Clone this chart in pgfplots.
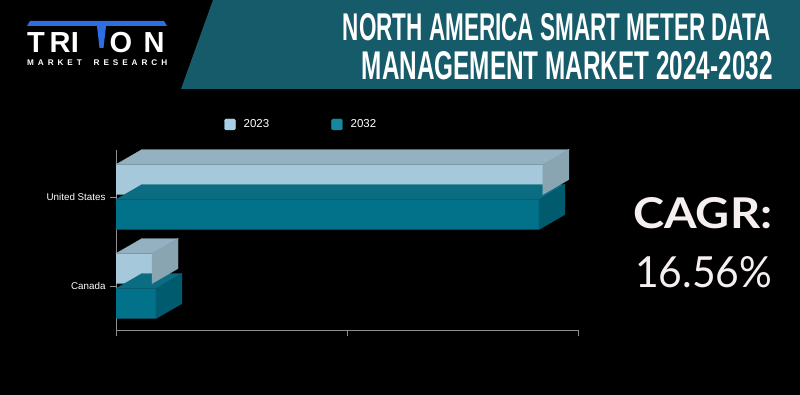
\documentclass[border=0pt]{standalone}
\usepackage{fontspec}
\usepackage{pgfplots}
\usepackage{pgfplotstable}
\pgfplotsset{compat=1.18}
\setmainfont{Liberation Sans}
\newfontfamily\latofont{Lato}
\definecolor{banner}{HTML}{165B69}
\definecolor{cAfront}{HTML}{A5C9DA}
\definecolor{cAtop}{HTML}{93B1C0}
\definecolor{cAside}{HTML}{8AA5B2}
\definecolor{cBfront}{HTML}{02718A}
\definecolor{cBtop}{HTML}{0A6D82}
\definecolor{cBside}{HTML}{005B6E}
\definecolor{legA}{HTML}{A7D0E6}
\definecolor{legB}{HTML}{16879F}
\definecolor{axgray}{HTML}{8F8F8F}
\definecolor{logoblue}{HTML}{2E6EE0}
\definecolor{cagr}{HTML}{F6EFEF}

% 2023 values
\pgfplotstableread{
y v
1 1.848
0 0.156
}\dataA
% 2032 values
\pgfplotstableread{
y v
1 1.831
0 0.173
}\dataB

\begin{document}
\begin{tikzpicture}
\path[use as bounding box] (0pt,0pt) rectangle (800pt,395pt);
\fill[black] (0pt,0pt) rectangle (800pt,395pt);
\begin{scope}[x=1pt,y=1pt]
% banner
\fill[banner] (181,306) -- (213,395) -- (800,395) -- (800,306) -- cycle;
\node[anchor=base east, inner sep=0pt, text=white] at (771,354)
  {\resizebox{428pt}{27pt}{\bfseries NORTH AMERICA SMART METER DATA}};
\node[anchor=base east, inner sep=0pt, text=white] at (773,315)
  {\resizebox{411pt}{28pt}{\bfseries MANAGEMENT MARKET 2024-2032}};
% logo
\fill[logoblue] (30,374) -- (164,374) -- (167,369) -- (27,369) -- cycle;
\fill[logoblue] (97,369) -- (106,369) -- (103.5,347) -- (99.5,347) -- cycle;
\begin{scope}[every node/.style={anchor=base, inner sep=0pt, text=white, font=\fontsize{29}{30}\bfseries}]
\node at (36,342) {T};
\node at (60,342) {R};
\node at (75,342) {I};
\node at (121,342) {O};
\node at (154,342) {N};
\end{scope}
\node[anchor=base west, inner sep=0pt, text=white, font=\fontsize{8.2}{9}\bfseries] at (27,329.5)
  {\makebox[140pt][s]{M\hfil A\hfil R\hfil K\hfil E\hfil T\hfil\hfil\hfil R\hfil E\hfil S\hfil E\hfil A\hfil R\hfil C\hfil H}};
% CAGR
\node[anchor=base west, inner sep=0pt, text=cagr] at (633,166)
  {\resizebox{139pt}{31pt}{\latofont\bfseries CAGR:}};
\node[anchor=base west, inner sep=0pt, text=cagr] at (635,107)
  {\resizebox{137pt}{31pt}{\latofont 16.56\%}};
\end{scope}

\begin{axis}[
  at={(116pt,65pt)}, anchor=south west,
  scale only axis, x=231pt, y=89pt,
  xmin=0, xmax=2, ymin=-0.494, ymax=1.528,
  axis x line*=bottom, axis y line*=left,
  axis line style={draw=axgray, line width=0.8pt, -},
  xtick={0,1,2}, xticklabels={},
  ytick={0,1}, yticklabels={Canada,United States},
  tick style={draw=axgray, line width=0.8pt},
  tick align=outside, major tick length=6pt,
  yticklabel style={font=\fontsize{9.8}{11}\selectfont, text=white, xshift=-1pt},
  clip=false,
  legend style={at={(0.234,1.142)}, anchor=west, draw=none, fill=none,
    text=white, font=\fontsize{11.5}{13}\selectfont, inner sep=0pt,
    /tikz/every even column/.append style={column sep=60pt}},
  legend columns=2, legend cell align=left,
]
\addlegendimage{legend image code/.code={\fill[legA, rounded corners=1.5pt] (0pt,-5.5pt) rectangle (11pt,5.5pt); \path (17pt,0pt);}}
\addlegendentry{2023}
\addlegendimage{legend image code/.code={\fill[legB, rounded corners=1.5pt] (0pt,-5.5pt) rectangle (11pt,5.5pt); \path (17pt,0pt);}}
\addlegendentry{2032}

% 2032 series (lower bars)
\addplot[forget plot, scatter, only marks, mark=*, mark size=0pt,
  visualization depends on={\thisrow{v} \as \xval},
  scatter/@pre marker code/.code={\begingroup
    \pgfmathsetmacro\L{\xval*231}
    \fill[cBtop] (-\L pt,-2.5pt) -- ({-\L pt+26pt},12.5pt) -- (26pt,12.5pt) -- (0pt,-2.5pt) -- cycle;
    \fill[cBside] (0pt,-2.5pt) -- (26pt,12.5pt) -- (26pt,-17.5pt) -- (0pt,-32.5pt) -- cycle;
  },
  scatter/@post marker code/.code={\endgroup}]
  table[x=v, y=y] {\dataB};
\addplot[forget plot, xbar, bar width=30pt, bar shift=-17.5pt, fill=cBfront, draw=none]
  table[x=v, y=y] {\dataB};

% 2023 series (upper bars)
\addplot[forget plot, scatter, only marks, mark=*, mark size=0pt,
  visualization depends on={\thisrow{v} \as \xval},
  scatter/@pre marker code/.code={\begingroup
    \pgfmathsetmacro\L{\xval*231}
    \fill[cAtop] (-\L pt,32.5pt) -- ({-\L pt+26pt},47.5pt) -- (26pt,47.5pt) -- (0pt,32.5pt) -- cycle;
    \fill[cAside] (0pt,32.5pt) -- (26pt,47.5pt) -- (26pt,17.5pt) -- (0pt,2.5pt) -- cycle;
  },
  scatter/@post marker code/.code={\endgroup}]
  table[x=v, y=y] {\dataA};
\addplot[forget plot, xbar, bar width=30pt, bar shift=17.5pt, fill=cAfront, draw=none]
  table[x=v, y=y] {\dataA};
\end{axis}
\end{tikzpicture}
\end{document}
